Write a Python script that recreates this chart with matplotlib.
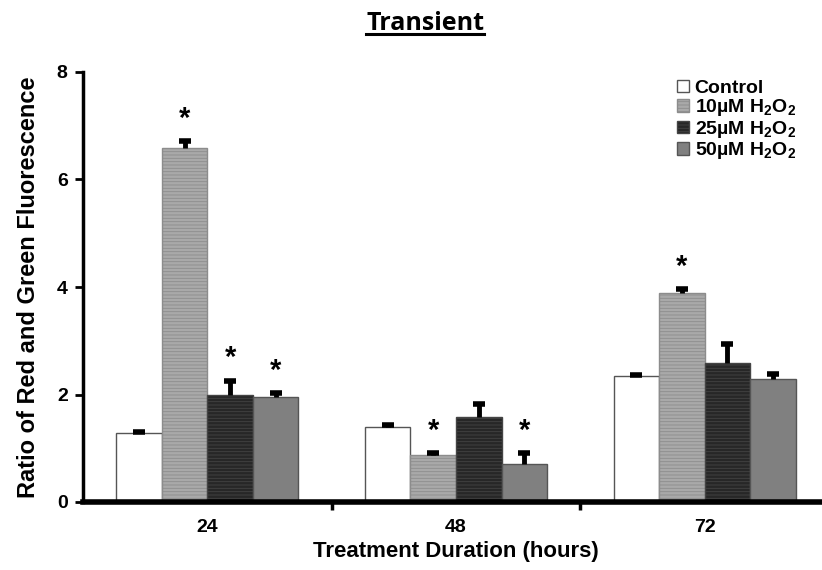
import numpy as np
import matplotlib
matplotlib.use("Agg")
import matplotlib.pyplot as plt
from matplotlib.lines import Line2D

plt.rcParams['font.family'] = ['Liberation Sans', 'DejaVu Sans']
plt.rcParams['mathtext.fontset'] = 'custom'
plt.rcParams['mathtext.rm'] = 'Liberation Sans'
plt.rcParams['mathtext.bf'] = 'Liberation Sans:bold'
plt.rcParams['hatch.linewidth'] = 0.6

# data
durations = ['24', '48', '72']
series = ['Control', r'10µM $\mathbf{H_2O_2}$', r'25µM $\mathbf{H_2O_2}$', r'50µM $\mathbf{H_2O_2}$']
control = [1.28, 1.40, 2.34]
h2o2_10 = [6.59, 0.87, 3.89]
h2o2_25 = [1.99, 1.58, 2.59]
h2o2_50 = [1.95, 0.71, 2.29]
err_control = [0.03, 0.03, 0.03]
err_10 = [0.13, 0.04, 0.07]
err_25 = [0.27, 0.24, 0.35]
err_50 = [0.07, 0.20, 0.10]
significant = [[False, False, False],
               [True, True, True],
               [True, False, False],
               [True, True, False]]

values = [control, h2o2_10, h2o2_25, h2o2_50]
errors = [err_control, err_10, err_25, err_50]
facecolors = ['white', '#a9a9a9', '#272727', '#808080']
hatches = [None, '-----', '-----', None]
hatchcolors = ['#555555', '#8c8c8c', '#444444', '#555555']

fig = plt.figure(figsize=(8.22, 5.7), dpi=100)
ax = fig.add_axes([83/822, 68/570, 746/822, 430/570])

x = np.arange(len(durations))
w = 0.183
for i, (vals, errs) in enumerate(zip(values, errors)):
    pos = x + (i - 1.5) * w
    vals = np.array(vals)
    errs = np.array(errs)
    bars = ax.bar(pos, vals, width=w, color=facecolors[i], edgecolor='#555555',
                  linewidth=1.0, hatch=hatches[i], label=series[i], zorder=2)
    if hatches[i]:
        for b in bars:
            b.set_edgecolor(hatchcolors[i])
    # upper half error bars only
    ax.vlines(pos, vals, vals + errs, color='black', linewidth=3.5, zorder=3)
    ax.plot(pos, vals + errs, linestyle='none', marker='_', markersize=9,
            markeredgewidth=4, color='black', zorder=3)
    for j in range(len(vals)):
        if significant[i][j]:
            ax.annotate('*', (pos[j], vals[j] + errs[j]), xytext=(0, 6),
                        textcoords='offset points', ha='center', va='bottom',
                        fontsize=21, fontweight='bold')

ax.set_xlim(-0.5, 2.5)
ax.set_ylim(0, 8)
ax.set_yticks([0, 2, 4, 6, 8])
ax.set_xticks(x)
ax.set_xticklabels(durations)
ax.set_xticks([0.5, 1.5], minor=True)
ax.tick_params(axis='x', which='major', length=0, pad=12, labelsize=14)
ax.tick_params(axis='x', which='minor', length=6, width=2.5, direction='out')
ax.tick_params(axis='y', length=6, width=2, direction='out', labelsize=14, pad=5)
for lab in ax.get_xticklabels() + ax.get_yticklabels():
    lab.set_fontweight('bold')
for s in ['top', 'right']:
    ax.spines[s].set_visible(False)
ax.spines['left'].set_linewidth(2.5)
ax.spines['bottom'].set_linewidth(4)

ax.set_ylabel('Ratio of Red and Green Fluorescence', fontsize=17, fontweight='bold', labelpad=12)
ax.set_xlabel('Treatment Duration (hours)', fontsize=16, fontweight='bold', labelpad=4)

leg = fig.legend(loc='upper left', bbox_to_anchor=(677/822, 1 - 80/570), frameon=False,
                 fontsize=14, handlelength=0.6, handleheight=0.6, handletextpad=0.3,
                 labelspacing=0.02, borderaxespad=0, borderpad=0)
for t in leg.get_texts():
    t.set_fontweight('bold')

title = fig.text(425/822, 1 - 23/570, 'Transient', ha='center', va='center',
                 fontsize=18, fontweight='bold', family=['Open Sans', 'DejaVu Sans'])
fig.canvas.draw()
bb = title.get_window_extent().transformed(fig.transFigure.inverted())
fig.add_artist(Line2D([bb.x0, bb.x1], [bb.y0 + 0.002, bb.y0 + 0.002],
                      transform=fig.transFigure, color='black', linewidth=2.2))

fig.savefig('out.png', dpi=100)
